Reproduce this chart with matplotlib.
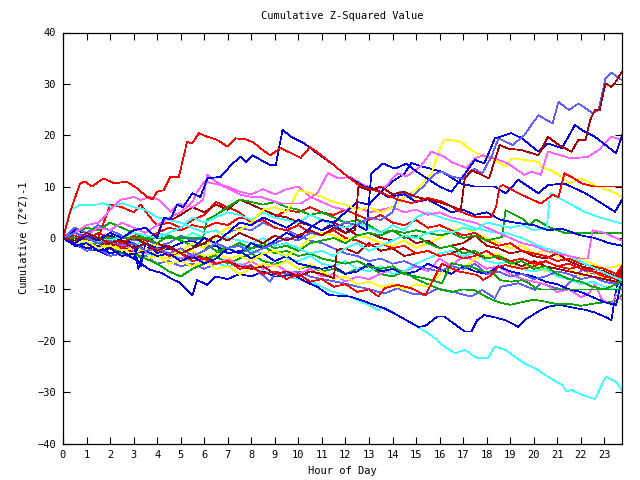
import matplotlib
matplotlib.use("Agg")
import matplotlib.pyplot as plt

# (hour, cumulative value) pairs
red_a = [(0, 0), (0.3, 5), (0.72, 10.6), (0.94, 11), (1.22, 10), (1.72, 11.6), (2.2, 10.6), (2.7, 11),
         (3.14, 9.7), (3.57, 8), (3.8, 7.5), (4.0, 9), (4.28, 9.3), (4.56, 11.9), (4.92, 11.9), (5.27, 18.7),
         (5.49, 18.4), (5.77, 20.4), (6.13, 19.7), (6.55, 19.1), (6.98, 17.8), (7.33, 19.4), (7.76, 19.2),
         (8.1, 18.6), (8.4, 17.4), (8.8, 16.1), (9.25, 17.5), (9.7, 16.5), (10.1, 15.6), (10.5, 17.7),
         (11.0, 16), (11.4, 14.6), (12.1, 11.9), (12.66, 10), (13.1, 9.5), (13.6, 8.7), (14.2, 7.5),
         (14.8, 6.8), (15.5, 7.8), (16.1, 7.1), (16.9, 5.1), (17.5, 4.1), (18.2, 4.1), (18.4, 6.1),
         (18.55, 10), (18.7, 10.3), (19.35, 8.7), (20.3, 6.7), (20.8, 8.4), (21.05, 8), (21.3, 12.6),
         (21.6, 11.9), (22.05, 10.6), (22.6, 10), (23.2, 10), (23.75, 10)]
blue_a = [(0, 0), (0.5, -1), (1, 0.5), (1.5, -0.5), (2, 1), (2.5, 0), (3, 1.5), (3.5, 2), (4, 0), (4.3, 4),
          (4.56, 3.6), (4.85, 6.5), (5.1, 6), (5.49, 8.7), (5.84, 8), (6.13, 11.6), (6.7, 11.9), (7.2, 14.5),
          (7.55, 15.8), (7.76, 14.8), (8.05, 16.1), (8.4, 15.2), (8.8, 14.2), (9.04, 14.2), (9.33, 21.1),
          (9.68, 19.7), (10.25, 18.4), (10.8, 16.5), (11.5, 14.2), (12.1, 11.9), (12.8, 10), (13.3, 9.5),
          (13.8, 8), (14.5, 8.5), (15, 7), (15.5, 7.5), (16.5, 5), (17, 5.5), (17.5, 4.5), (18, 5),
          (18.6, 3.5), (19.2, 3), (20, 2.5), (20.6, 1.5), (21.2, 1.8), (22, 0.5), (22.6, 0), (23.2, -1),
          (23.75, -1.5)]
darkred_a = [(0, 0), (0.5, -0.5), (1, 1), (1.5, 0), (2, -1), (2.5, -0.5), (3, -2), (3.5, -1), (4, -2.5),
             (4.5, -1.5), (5, -3), (5.5, -2), (6, -1), (6.5, 0.5), (7, -0.5), (7.5, 1), (8, 0), (8.5, -1),
             (9, 0.5), (9.5, -0.5), (10, 0.5), (10.5, 1.5), (11, 0.5), (11.5, 2), (12, 1), (12.4, 1.5),
             (12.55, 10), (13, 9.3), (13.5, 10), (14, 8.5), (14.5, 9), (15, 8), (15.5, 7.5), (16.1, 6.8),
             (16.6, 6), (16.9, 5.5), (17.07, 11.6), (17.35, 13.2), (17.7, 12.5), (18.1, 11.6), (18.55, 18.1),
             (18.9, 17.4), (19.5, 17.1), (20.2, 16.1), (20.6, 19.7), (21.1, 18), (21.6, 16.8), (21.9, 19.1),
             (22.2, 19.1), (22.4, 23), (22.6, 24.9), (22.8, 24.9), (23.05, 30.1), (23.3, 29.4), (23.5, 30.5),
             (23.75, 32.4)]
lightblue_a = [(0, 0), (0.5, 1), (1, 0), (1.5, -1), (2, -0.5), (2.5, -1.5), (3, -1), (3.5, -2.5), (4, -2),
               (4.5, -3), (5, -2), (5.5, -3.5), (6, -2.5), (6.5, -1), (7, -2), (7.5, -1.5), (8, -3), (8.5, -2),
               (9, -1), (9.5, 0), (10, -0.5), (10.5, 1), (11, 0.5), (11.5, 2), (12, 3), (12.5, 2.5), (13, 4),
               (13.5, 3.5), (14, 5), (14.3, 9), (14.8, 8), (15.3, 10), (15.8, 12.5), (16.1, 12.9), (16.5, 12),
               (17, 11.5), (17.5, 13.5), (17.8, 12.5), (18.2, 15.8), (18.5, 19.4), (19.1, 18.1), (19.6, 20),
               (19.9, 22), (20.2, 23.9), (20.8, 22.3), (21.05, 26.5), (21.5, 24.9), (21.9, 26.2), (22.5, 24.3),
               (22.75, 24.9), (23.05, 31.1), (23.3, 32.2), (23.75, 30.7)]
magenta_a = [(0, 0), (0.5, 1), (1, 2.5), (1.5, 3), (2, 5.4), (2.43, 7.4), (3, 8), (3.3, 7.4), (3.7, 8),
             (4.1, 7.4), (4.56, 5.1), (4.9, 6.7), (5.5, 6), (5.95, 7.4), (6.13, 12.3), (6.4, 11.3), (6.84, 10),
             (7.55, 8.4), (8, 8), (8.4, 8), (9.25, 6.7), (10.1, 6.7), (10.8, 8.7), (11.25, 12.6), (11.7, 11.6),
             (12.2, 11.9), (12.7, 10.5), (13.2, 9.5), (13.7, 10), (14.2, 12.6), (14.6, 12), (15.2, 14),
             (15.65, 16.8), (16.2, 15.8), (16.5, 14.8), (17.14, 13.6), (17.5, 15.5), (17.85, 16.1),
             (18.35, 15.5), (18.9, 14.5), (19.6, 12.3), (19.9, 12.9), (20.3, 12.3), (20.6, 16.8), (21.6, 15.5),
             (22.3, 15.8), (22.75, 17.1), (23.3, 19.7), (23.75, 19.1)]
yellow_a = [(0, 0), (0.5, -1), (1, -0.5), (1.5, -2), (2, -1.5), (2.5, -2.5), (3, -2), (3.5, -1), (4, -1.5),
            (4.5, -3), (5, -2.5), (5.5, -1), (6, -2), (6.5, 0.5), (7, 2), (7.5, 1.5), (8, 3), (8.5, 5.5),
            (9, 6), (9.5, 5), (10, 9.3), (10.5, 8.7), (11, 8), (11.5, 7), (12, 6.5), (12.5, 5.5), (13, 6),
            (13.5, 5), (14, 6), (14.5, 8), (15, 9.3), (15.65, 12.6), (16.1, 18.4), (16.2, 19.1), (16.5, 19.1),
            (16.9, 18.7), (17.35, 17.1), (17.9, 15.8), (18.4, 15), (18.8, 13.9), (19.05, 15.5), (19.6, 15.2),
            (20.2, 14.8), (20.3, 13.9), (20.8, 13), (21.2, 11.9), (21.5, 10.6), (22, 11.6), (22.75, 10),
            (23.5, 8.7), (23.75, 8)]
blue_b = [(0, 0), (0.5, -1.5), (1, -1), (1.5, -2.5), (2, -2), (2.5, -3.5), (3, -3), (3.3, -5.5), (3.5, -1),
          (4, -2), (4.5, -1.5), (5, -3), (5.5, -2), (6, 0), (6.5, -1), (7, 1), (7.5, 3), (8, 2.5), (8.5, 4),
          (9, 3), (9.5, 2), (10, 3.5), (10.5, 2.5), (11, 1.5), (11.5, 2.5), (12, 1), (12.5, 2.5), (12.9, 1.5),
          (13.1, 12.6), (13.6, 14.5), (14.1, 13.5), (14.6, 14.5), (15, 13), (15.5, 11.5), (16, 10),
          (16.5, 9), (17, 12), (17.5, 15.2), (17.9, 14.5), (18.35, 19.4), (19.05, 20.4), (19.5, 19.4),
          (20.2, 16.8), (20.6, 18.4), (21.2, 17.5), (21.75, 22), (22.05, 21), (22.6, 19.7), (23.05, 18.1),
          (23.5, 16.5), (23.75, 20)]
blue_c = [(0, 0), (0.5, -1), (1, -2), (1.5, -1.5), (2, -3), (2.5, -2.5), (3, -4), (3.2, -1.5), (3.5, -2.5),
          (4, -3.5), (4.5, -3), (5, -4.5), (5.5, -3.5), (6, -5), (6.5, -4), (7, -2), (7.5, -3), (8, -1),
          (8.5, -2), (9, -0.5), (9.5, 1), (10, 0), (10.5, 2), (11, 3.5), (11.5, 3), (12, 5), (12.5, 7),
          (13, 6.5), (13.5, 9), (14, 11), (14.5, 12.5), (14.8, 14.6), (15.2, 14), (15.6, 13.5), (16.1, 12.9),
          (16.9, 10.6), (17.5, 10), (18.35, 10), (18.8, 8.7), (19.35, 11.3), (20.2, 8.7), (20.6, 10.3),
          (21.3, 10.6), (22.2, 8.7), (22.9, 6.7), (23.45, 5.1), (23.75, 7.4)]
cyan_a = [(0, 0), (0.3, 5.4), (0.7, 6.4), (1.3, 6.4), (1.7, 6.8), (2.1, 6), (2.5, 6.8), (3, 6), (3.5, 5.5),
          (4, 4), (4.5, 3.5), (5, 3), (5.5, 2), (6, 1), (6.5, 1.5), (7, 0), (7.5, -0.5), (8, -1), (8.5, 0),
          (9, -1.5), (9.5, -1), (10, -2), (10.5, -3), (11, -2.5), (11.5, -3.5), (12, -2), (12.5, -1),
          (13, -2.5), (13.5, -1.5), (14, -0.5), (14.5, 0.5), (15, 0), (15.5, 1), (16, 1.5), (16.5, 1),
          (17, 2), (17.5, 1.5), (18, 3), (18.5, 2.5), (19, 2), (19.5, 2.5), (20, 1.5), (20.55, 2),
          (20.7, 8.7), (21.2, 7.5), (21.75, 6.1), (22.2, 5), (22.75, 4.1), (23.2, 3.5), (23.75, 2.8)]
cyan_b = [(0, 0), (1, -1), (2, -0.5), (3, 1), (4, 0), (5, 2), (5.5, 4), (6, 3), (7, 5), (7.5, 4.5), (8, 3.5),
          (8.5, 5), (9, 4), (10, 3), (10.5, 4.5), (11, 3.5), (11.5, 2.5), (12, 2), (12.5, 3), (13, 2),
          (13.5, 1), (14, 2.5), (14.5, 1.5), (15, 4), (15.5, 5), (16.1, 3.9), (16.9, 2.9), (17.5, 1.9),
          (18.2, 1.2), (18.9, 0.9), (19.5, 0), (20.3, -1.7), (21.2, -3), (22, -4.6), (22.9, -6.6),
          (23.75, -8.2)]
cyan_c = [(0, 0), (0.5, -1), (1, -1.5), (1.5, -1), (2, -2), (2.5, -2.5), (3, -2), (3.5, -3), (4, -3.5),
          (4.5, -3), (5, -4), (5.5, -4.5), (6, -4), (6.5, -5), (7, -5.5), (7.5, -5), (8, -6), (8.5, -6.5),
          (9, -7), (9.5, -7.5), (10, -8), (10.5, -8.5), (11, -9.5), (11.4, -10.4), (12, -11.1),
          (12.66, -12.4), (13.4, -14), (13.66, -13.5), (14.2, -15), (14.8, -16.6), (15.4, -18.2),
          (15.9, -19.8), (16.1, -20.8), (16.65, -22.4), (17.07, -21.8), (17.6, -23.4), (18.05, -23.4),
          (18.35, -21.1), (18.8, -21.8), (19.6, -24.4), (20.1, -25.5), (20.6, -27), (21.2, -28.6),
          (21.4, -29.9), (21.6, -29.6), (22.05, -30.5), (22.6, -31.4), (23.05, -27), (23.5, -28),
          (23.75, -29.6)]
blue_d = [(0, 0), (0.5, -1.5), (1, -2), (1.5, -2.5), (2, -3.5), (2.5, -3), (3, -4), (3.7, -6.2), (4.2, -6.8),
          (4.56, -7.8), (5, -8.8), (5.5, -11.1), (5.7, -8.2), (6.13, -9.1), (6.5, -7.5), (7, -8), (7.5, -7),
          (8, -7.5), (8.5, -6.5), (9, -7.5), (9.8, -7.2), (10.3, -8.5), (10.8, -9.5), (11.3, -11.1),
          (12.2, -11.4), (12.66, -12.1), (13.2, -13), (13.66, -13.7), (14.2, -15), (15.1, -17.3),
          (15.4, -17.1), (15.9, -15.3), (16.2, -15.3), (16.5, -16.3), (17.07, -18.2), (17.35, -18.2),
          (17.6, -16), (17.9, -15), (18.4, -15.5), (18.8, -16), (19.35, -17.3), (19.6, -16), (20.3, -14),
          (20.6, -13.4), (21.1, -13), (21.6, -13.5), (22.2, -14), (22.6, -14.5), (23.1, -15.5), (23.3, -16),
          (23.5, -10), (23.75, -6)]
lightblue_b = [(0, 0), (0.5, -1), (1, -2.5), (1.5, -2), (2, -3.5), (2.5, -3), (3, -4), (3.5, -3.5), (4, -5),
               (4.5, -4.5), (5, -5.5), (5.5, -5), (6, -6), (6.5, -5), (7, -4.5), (7.5, -5.5), (8, -5.3),
               (8.8, -8.5), (9.04, -6.6), (9.5, -7), (10, -6.5), (10.5, -7.5), (11, -8), (11.6, -8.5),
               (12.2, -9.1), (13.1, -10.1), (13.66, -10.8), (14.2, -9.8), (14.8, -10.8), (15.4, -11.1),
               (15.9, -9.8), (16.5, -10.4), (17.35, -11.4), (17.8, -10.1), (18.35, -11.7), (18.6, -9.5),
               (19.35, -8.8), (20.05, -10.1), (20.3, -8.8), (21.2, -10.1), (21.75, -7.5), (22.05, -6.2),
               (22.75, -7.2), (23.45, -8.8), (23.75, -8.5)]
red_b = [(0, 0), (0.5, 0.5), (1, -0.5), (1.5, 0), (2, -1), (2.5, -2), (3, -1), (3.5, -2.5), (4, -2),
         (4.5, -3.5), (5, -3), (5.5, -4.5), (6, -4), (6.5, -5), (7, -4.5), (7.5, -6), (8, -5.5), (8.5, -7),
         (9, -6.5), (9.5, -8), (10, -7), (10.5, -8.5), (11, -8), (11.5, -9.5), (12, -9), (12.5, -10.5),
         (13, -10), (13.4, -11.4), (13.66, -9.8), (14.2, -9.1), (14.8, -9.8), (15.4, -11.1), (15.8, -7.5),
         (16.1, -5), (16.8, -6.5), (17.6, -7.2), (17.85, -8.2), (18.2, -7.2), (18.5, -5.6), (18.8, -5.3),
         (19.5, -6), (20, -5.5), (20.5, -4.5), (21, -5.5), (21.5, -5), (22, -6), (22.5, -6.5), (23, -7.5),
         (23.5, -8), (23.75, -6.5)]
red_c = [(0, 0), (0.5, 1), (1, 0.5), (1.5, 0), (2, 6.5), (2.5, 6), (3, 5), (3.3, 6.5), (3.7, 4), (4, 2.5),
         (4.5, 3), (5, 2), (5.5, 3.5), (6, 4.5), (6.5, 7), (7, 6), (7.5, 5), (8, 3), (8.5, 3.5), (9, 2),
         (9.5, 1.5), (10, 2.5), (10.5, 1), (11, 0.5), (11.5, 1.5), (12, 0), (12.5, -0.5), (13, -1.5),
         (13.5, -1), (14, -2), (14.5, -1.5), (15, -3), (15.5, -2.5), (16, -3.5), (16.5, -3), (17, -4),
         (17.5, -3.5), (18, -2.5), (18.5, -4), (19, -4.5), (19.5, -4), (20, -5), (20.5, -4.5), (21, -5.5),
         (21.5, -6), (22, -5.5), (22.5, -6.5), (23, -7), (23.5, -8), (23.75, -7.5)]
darkred_b = [(0, 0), (0.5, -1), (1, 0.5), (1.5, -0.5), (2, -1.5), (2.5, -1), (3, 0), (3.5, -1), (4, 0.5),
             (4.3, 4), (4.6, 3.5), (5, 4.5), (5.5, 6), (6, 5), (6.5, 6.5), (7, 5.5), (7.5, 7.5), (8, 6.5),
             (8.5, 5.5), (9, 4.5), (9.5, 4), (10, 3), (10.5, 2.5), (11, 1.5), (11.5, 3), (12, 2), (12.5, 0.5),
             (13, 1), (13.5, 0), (14, -0.5), (14.5, 0.5), (15, -1), (15.5, -0.5), (16, -2), (16.5, -1.5),
             (17, -1), (17.5, 0.5), (18, -1.5), (18.5, -2), (19, -3), (19.5, -2.5), (20, -3.5), (20.5, -4),
             (21, -3), (21.5, -4.5), (22, -5.5), (22.5, -6), (23, -6.5), (23.5, -7.5), (23.75, -6)]
green_a = [(0, 0), (5.95, 0), (6.1, 3.5), (6.5, 4.5), (7, 6), (7.5, 7.5), (8, 7), (8.5, 6.5), (9, 7),
           (9.5, 6), (10, 5.5), (10.5, 4.5), (11, 5), (11.5, 4), (12, 3), (12.5, 3.5), (13, 2.5), (13.5, 1),
           (14, 1.5), (14.5, 0), (15, 0.5), (15.5, -1), (16, -2), (16.5, -1.5), (17, -3), (17.5, -2.5),
           (18, -4), (18.5, -3.5), (19, -5), (19.5, -4.5), (20, -6), (20.5, -5.5), (21, -7), (21.5, -8),
           (22, -8.5), (22.5, -9.5), (23, -10), (23.5, -9), (23.75, -8)]
green_b = [(0, 0), (0.5, 1), (1, 2), (1.5, 1.5), (2, 3), (2.5, 2), (3, 1), (3.5, 0), (4, -1), (4.5, 0.5),
           (5, -0.5), (5.5, -1.5), (6, -1), (6.5, -2.5), (7, -2), (7.5, -3), (8, -2), (8.5, -1), (9, -2),
           (9.5, -1.5), (10, -2.5), (10.5, -1), (11, -0.5), (11.5, 0), (12, -1), (12.5, 0.5), (13, 1),
           (13.5, 0.5), (14, 1.5), (14.5, 1), (15, 1.5), (15.5, 1), (16, 0.5), (16.5, 1), (17, 0),
           (17.5, 0.5), (18, -0.5), (18.65, 0.2), (18.8, 5.4), (19.5, 3.8), (19.8, 2.5), (20.1, 3.6),
           (20.6, 2.2), (21.3, 1), (23.75, 1)]
green_c = [(0, 0), (0.5, -0.5), (1, -1.5), (1.5, -1), (2, -2), (2.5, -1.5), (3, -3), (3.5, -4), (4, -5),
           (4.5, -6.5), (5, -7.5), (5.5, -6), (6, -5), (6.5, -3), (7, -2), (7.5, -1), (8, -2), (8.5, -1.5),
           (9, -3), (9.5, -2.5), (10, -3.5), (10.5, -3), (11, -4), (11.5, -4.5), (12, -5), (12.5, -4.5),
           (13, -5.5), (13.5, -6), (14, -5.5), (14.5, -7), (15, -7.5), (15.5, -8), (16.1, -8.8),
           (16.5, -4.9), (16.9, -5.3), (17.35, -5.6), (17.8, -6.5), (18.2, -6.5), (18.55, -8.2),
           (19.05, -8.5), (19.5, -8.2), (19.8, -8.8), (20.05, -9.7), (20.3, -10), (23.75, -10)]
green_d = [(0, 0), (0.5, -1), (1, -0.5), (1.5, -2), (2, -1.5), (2.5, -3), (3, -2.5), (3.5, -1), (4, -2),
           (4.5, -1.5), (5, -3), (5.5, -2.5), (6, -4), (6.5, -3.5), (7, -5), (7.5, -4), (8, -3), (8.5, -4.5),
           (9, -5), (9.5, -4.5), (10, -6), (10.5, -5.5), (11, -6.5), (11.5, -6), (12, -7), (12.5, -6),
           (13, -5.5), (13.5, -7), (14, -7.5), (14.5, -6.5), (15, -8), (15.5, -9), (16, -10), (16.5, -10.5),
           (17, -10), (17.5, -10.2), (18, -11.5), (18.5, -12.5), (19, -13), (19.5, -12.5), (20, -12),
           (20.5, -12.4), (21, -12.9), (21.5, -12.8), (22, -13.2), (22.5, -12.8), (23, -12.5), (23.5, -12.3),
           (23.75, -11)]
yellow_b = [(0, 0), (0.5, -1.5), (1, -1), (1.5, -2.5), (2, -2), (2.5, -3.5), (3, -3), (3.5, -4), (4, -3.5),
            (4.5, -5), (5, -4.5), (5.5, -5.5), (6, -4.5), (6.5, -6), (7, -5.5), (7.5, -7), (8, -6), (8.5, -5),
            (9, -5.5), (9.5, -4.5), (10, -6), (10.5, -5), (11, -6.5), (11.5, -8), (12, -7.5), (12.5, -9),
            (13, -8.5), (13.5, -9.5), (14, -9), (14.5, -10), (15, -9), (15.5, -9.5), (16, -7), (16.5, -5.5),
            (17, -6), (17.5, -4), (18, -3.5), (18.5, -3), (19, -5), (19.5, -6), (20, -5), (20.5, -6.5),
            (21, -5.5), (21.5, -6), (22, -7.5), (22.5, -6.5), (23, -8), (23.5, -7.5), (23.75, -6.5)]
yellow_c = [(0, 0), (0.5, -0.5), (1, -1.5), (1.5, -2), (2, -1), (2.5, -2.5), (3, -3), (3.5, -2), (4, -3.5),
            (4.5, -4), (5, -3), (5.5, -2.5), (6, -3.5), (6.5, -3), (7, -4), (7.5, -3.5), (8, -4.5), (8.5, -3),
            (9, -2.5), (9.5, -3.5), (10, -2), (10.5, 0), (11, 1), (11.5, 0.5), (12, -0.5), (12.5, 0.5),
            (13, 0), (13.5, -1), (14, -1.5), (14.5, -0.5), (15, -2), (15.5, -1), (16, 0), (16.5, 1.5),
            (17, 2), (17.5, 1), (18, 0), (18.5, -1), (19, -2), (19.5, -1.5), (20, -3), (20.5, -2.5),
            (21, -3.5), (21.5, -4.5), (22, -4), (22.5, -5), (23, -6), (23.5, -5.5), (23.75, -5)]
magenta_b = [(0, 0), (0.5, -0.5), (1, -1.5), (1.5, -1), (2, -2), (2.5, -1), (3, -2.5), (3.5, -3), (4, -2),
             (4.5, -3.5), (5, -4), (5.5, -3), (6, -4.5), (6.5, -5), (7, -4), (7.5, -5.5), (8, -4.5), (8.5, -6),
             (9, -5), (9.5, -6.5), (10, -7), (10.5, -6), (11, -7.5), (11.5, -7), (12, -8.5), (12.5, -7.5),
             (13, -8), (13.5, -7), (14, -6), (14.5, -6.5), (15, -5.5), (15.5, -6.5), (16, -4), (16.5, -5.5),
             (17, -3.5), (17.5, -4.5), (18, -6), (18.5, -5.5), (19, -7), (19.5, -8), (20, -8.5), (20.5, -9),
             (21, -10.5), (21.5, -10), (22, -11.5), (22.3, -11), (22.6, -9), (22.9, -12), (23.3, -13),
             (23.5, -11), (23.75, -12)]
magenta_c = [(0, 0), (0.5, 1), (1, 0.5), (1.5, 2), (2, 1.5), (2.5, 3), (3, 2), (3.5, 1), (4, 2.5), (4.5, 4),
             (5, 5), (5.5, 7), (5.7, 9), (6, 11), (6.5, 10.5), (7, 10), (7.5, 9), (8, 8.5), (8.5, 9.5),
             (9, 8.5), (9.5, 9.5), (10, 10), (10.5, 8), (11, 7), (11.5, 6), (12, 5.5), (12.5, 6), (13, 5),
             (13.5, 5.5), (14, 6), (14.5, 5), (15, 5.5), (15.5, 4.5), (16, 5), (16.5, 4), (17, 3.5),
             (17.5, 3), (18, 2), (18.5, 1), (19, 0), (19.5, -1), (20, -1.5), (20.5, -2.5), (21, -3),
             (21.5, -3.5), (22, -4), (22.3, -4), (22.5, 1.5), (23, 1), (23.5, 0), (23.75, -0.5)]
blue_e = [(0, 0), (0.5, 1.5), (1, 1), (1.5, 0), (2, 0.5), (2.5, -0.5), (3, -1), (3.2, -6), (3.4, -3),
          (3.7, -1.5), (4, -3), (4.5, -2), (5, -1), (5.5, -0.5), (6, -2), (6.5, -1.5), (7, -3), (7.5, -2.5),
          (8, -4), (8.5, -3), (9, -4.5), (9.5, -3.5), (10, -5), (10.5, -5.5), (11, -6), (11.5, -5.5),
          (12, -7), (12.5, -6.5), (13, -5), (13.5, -6.5), (14, -6), (14.5, -7), (15, -6.5), (15.5, -5),
          (16, -6), (16.5, -7), (17, -5.5), (17.5, -6.5), (18, -7), (18.5, -5.5), (19, -6.5), (19.5, -7),
          (20, -7.5), (20.5, -8.5), (21, -9), (21.5, -10), (22, -10.5), (22.5, -11.5), (23, -12.5),
          (23.5, -13), (23.75, -8)]
red_d = [(0, 0), (0.5, -1), (1, -0.5), (1.5, 1), (2, 0), (2.5, -1), (3, 0.5), (3.5, -0.5), (4, 1), (4.5, 2),
         (5, 1.5), (5.5, 2.5), (6, 2), (6.5, 3), (7, 2.5), (7.5, 4), (8, 3.5), (8.5, 5), (9, 4), (9.5, 5.5),
         (10, 5), (10.5, 6), (11, 5), (11.5, 4.5), (12, 5.5), (12.5, 4.5), (13, 3.5), (13.5, 4.5), (14, 3),
         (14.5, 2.5), (15, 3.5), (15.5, 2), (16, 2.5), (16.5, 1.5), (17, 0.5), (17.5, 1), (18, -0.5),
         (18.5, -1.5), (19, -1), (19.5, -2.5), (20, -3), (20.5, -3.5), (21, -4.5), (21.5, -4), (22, -5),
         (22.5, -5.5), (23, -6), (23.5, -7), (23.75, -5.5)]
darkred_c = [(0, 0), (0.5, 1), (1, 0), (1.5, -0.5), (2, -2), (2.5, -1.5), (3, -3), (3.5, -2.5), (4, -1),
             (4.5, -2), (5, -3), (5.5, -4), (6, -3.5), (6.5, -5), (7, -4.5), (7.5, -5.5), (8, -6), (8.5, -5.5),
             (9, -7), (9.5, -6.5), (10, -7.5), (10.5, -6.5), (11, -7), (11.5, -7.8), (11.65, -2.3), (12, -2),
             (12.5, -3), (13, -1), (13.5, -2.5), (14, -2), (14.5, -3.5), (15, -3), (15.5, -2.5), (16, -3.5),
             (16.5, -3), (17, -2), (17.5, -3), (18, -4), (18.5, -3.5), (19, -4.5), (19.5, -5.5), (20, -4.5),
             (20.5, -5.5), (21, -6), (21.5, -6.5), (22, -7), (22.5, -7.5), (23, -8), (23.5, -8.5), (23.75, -7)]
lightblue_c = [(0, 0), (0.5, 2), (1, 1), (1.5, 2.5), (2, 1.5), (2.5, 0.5), (3, -0.5), (3.5, 0), (4, -1.5),
               (4.5, -1), (5, 0.5), (5.5, -0.5), (6, 0), (6.5, -1), (7, 1), (7.5, 2), (8, 1.5), (8.5, 3),
               (9, 2), (9.5, 1.5), (10, 0.5), (10.5, -0.5), (11, -1), (11.5, -2), (12, -3), (12.5, -3.5),
               (13, -4.5), (13.5, -4), (14, -5), (14.5, -4.5), (15, -5.5), (15.5, -6), (16, -6.5), (16.5, -5.5),
               (17, -6), (17.5, -5), (18, -7), (18.5, -6.5), (19, -7.5), (19.5, -7), (20, -8), (20.5, -7.5),
               (21, -6.5), (21.5, -7), (22, -8), (22.5, -7.5), (23, -8.5), (23.5, -9), (23.75, -8.5)]
cyan_d = [(0, 0), (0.5, -0.5), (1, 0.5), (1.5, -1), (2, 0), (2.5, -1), (3, -1.5), (3.5, -0.5), (4, 1),
          (4.5, 0.5), (5, -0.5), (5.5, 1), (6, 0), (6.5, -1.5), (7, -2), (7.5, -1), (8, -2.5), (8.5, -3),
          (9, -2.5), (9.5, -4), (10, -4.5), (10.5, -3.5), (11, -5), (11.5, -5.5), (12, -4.5), (12.5, -6),
          (13, -6.5), (13.5, -5.5), (14, -7), (14.5, -6.5), (15, -5), (15.5, -4), (16, -3), (16.5, -2.5),
          (17, -3.5), (17.5, -3), (18, -4.5), (18.5, -5), (19, -4.5), (19.5, -6), (20, -6.5), (20.5, -6),
          (21, -7.5), (21.5, -8), (22, -9), (22.5, -8.5), (23, -9.5), (23.5, -10), (23.75, -9)]

hour_ticks = list(range(24))
value_ticks = list(range(-40, 41, 10))

RED = "#ff0000"
DARKRED = "#a80000"
GREEN = "#00a800"
BLUE = "#0000e0"
LIGHTBLUE = "#6060ff"
MAGENTA = "#ff60ff"
CYAN = "#40ffff"
YELLOW = "#ffff00"

lines = [
    (cyan_c, CYAN), (blue_d, BLUE), (lightblue_b, LIGHTBLUE), (green_d, GREEN), (magenta_b, MAGENTA),
    (yellow_b, YELLOW), (cyan_d, CYAN), (blue_e, BLUE), (lightblue_c, LIGHTBLUE), (green_c, GREEN),
    (darkred_c, DARKRED), (red_b, RED), (red_c, RED), (yellow_c, YELLOW), (darkred_b, DARKRED),
    (red_d, RED), (green_a, GREEN), (green_b, GREEN), (cyan_b, CYAN), (magenta_c, MAGENTA),
    (cyan_a, CYAN), (blue_c, BLUE), (yellow_a, YELLOW), (magenta_a, MAGENTA), (blue_b, BLUE),
    (lightblue_a, LIGHTBLUE), (blue_a, BLUE), (red_a, RED), (darkred_a, DARKRED),
]

plt.rcParams["font.family"] = "DejaVu Sans Mono"
plt.rcParams["font.size"] = 7.5

fig = plt.figure(figsize=(6.4, 4.8), dpi=100)
ax = fig.add_axes([63 / 640, 1 - 443.5 / 480, 559 / 640, 411 / 480])

for pts, col in lines:
    xs = [p[0] for p in pts]
    ys = [p[1] for p in pts]
    ax.plot(xs, ys, color=col, lw=0.5, antialiased=False)

ax.set_xlim(0, 23.75)
ax.set_ylim(-40, 40)
ax.set_xticks(hour_ticks)
ax.set_yticks(value_ticks)
ax.tick_params(direction="in", length=5, width=0.8, top=True, right=True, pad=5, labelsize=7.5)
for s in ax.spines.values():
    s.set_linewidth(0.9)

ax.set_title("Cumulative Z-Squared Value", fontsize=7.5, pad=10)
ax.set_xlabel("Hour of Day", fontsize=7.5, labelpad=4)
ax.set_ylabel("Cumulative (Z*Z)-1", fontsize=7.5, labelpad=6)

fig.savefig("out.png", dpi=100)
